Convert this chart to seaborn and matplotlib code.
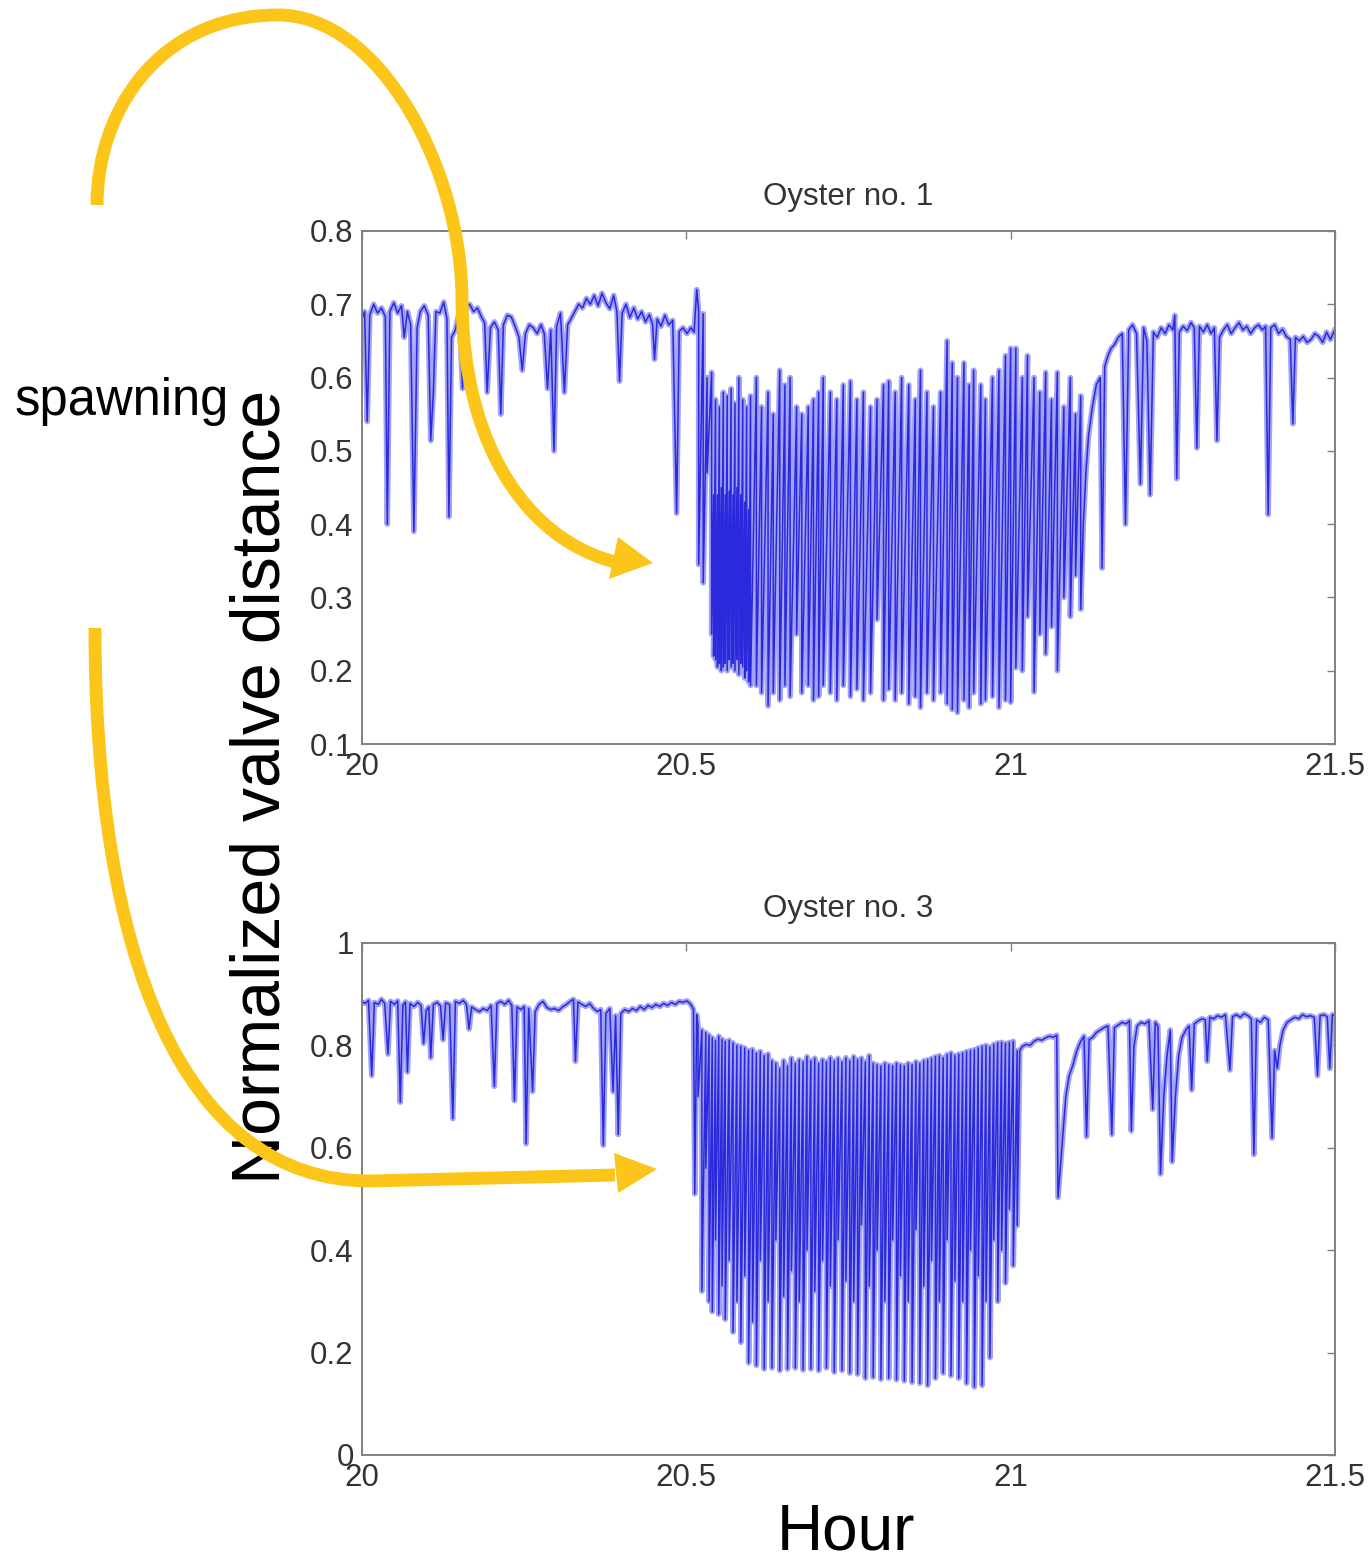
import matplotlib.pyplot as plt
import seaborn as sns
import pandas as pd
from matplotlib.path import Path
from matplotlib.patches import PathPatch, Polygon
from matplotlib.transforms import Affine2D

# ---- Oyster no. 1 ----
# quiet period before spawning: (hour, normalized valve distance)
o1_pre = [
    (20.000, 0.680), (20.004, 0.690), (20.008, 0.540), (20.012, 0.685), (20.018, 0.700),
    (20.024, 0.688), (20.030, 0.695), (20.036, 0.683), (20.039, 0.400), (20.043, 0.690),
    (20.049, 0.702), (20.055, 0.688), (20.061, 0.698), (20.065, 0.655), (20.070, 0.690),
    (20.075, 0.672), (20.080, 0.390), (20.085, 0.668), (20.090, 0.690), (20.096, 0.698),
    (20.102, 0.685), (20.106, 0.514), (20.110, 0.580), (20.114, 0.690), (20.120, 0.688),
    (20.126, 0.703), (20.131, 0.680), (20.134, 0.410), (20.138, 0.655), (20.144, 0.665),
    (20.150, 0.690), (20.155, 0.585), (20.160, 0.695), (20.166, 0.700), (20.172, 0.690),
    (20.178, 0.695), (20.184, 0.683), (20.189, 0.675), (20.193, 0.580), (20.198, 0.668),
    (20.204, 0.676), (20.210, 0.665), (20.214, 0.550), (20.218, 0.672), (20.224, 0.685),
    (20.230, 0.683), (20.236, 0.670), (20.242, 0.655), (20.247, 0.610), (20.252, 0.660),
    (20.258, 0.672), (20.264, 0.668), (20.270, 0.660), (20.276, 0.672), (20.281, 0.660),
    (20.286, 0.585), (20.291, 0.665), (20.296, 0.500), (20.300, 0.670), (20.306, 0.688),
    (20.312, 0.580), (20.317, 0.672), (20.322, 0.680), (20.328, 0.690), (20.334, 0.700),
    (20.340, 0.695), (20.346, 0.708), (20.352, 0.700), (20.358, 0.712), (20.364, 0.698),
    (20.370, 0.715), (20.376, 0.702), (20.382, 0.694), (20.388, 0.712), (20.393, 0.690),
    (20.397, 0.595), (20.401, 0.688), (20.407, 0.700), (20.413, 0.682), (20.419, 0.695),
    (20.425, 0.680), (20.431, 0.690), (20.437, 0.676), (20.443, 0.686), (20.448, 0.672),
    (20.451, 0.625), (20.455, 0.680), (20.461, 0.670), (20.467, 0.685), (20.473, 0.672),
    (20.479, 0.678), (20.485, 0.415), (20.489, 0.663), (20.495, 0.668), (20.501, 0.660),
    (20.507, 0.668), (20.512, 0.662), (20.516, 0.720),
]
# spawning: (hour, open level, closed level) of each rapid valve stroke
o1_spawn = [
    (20.519, 0.690, 0.345), (20.526, 0.687, 0.320), (20.532, 0.600, 0.470), (20.539, 0.607, 0.250),
    (20.542, 0.440, 0.220), (20.545, 0.570, 0.215), (20.548, 0.440, 0.205), (20.551, 0.560, 0.210),
    (20.554, 0.450, 0.200), (20.557, 0.580, 0.205), (20.560, 0.440, 0.210), (20.563, 0.575, 0.200),
    (20.566, 0.445, 0.215), (20.569, 0.585, 0.205), (20.572, 0.440, 0.210), (20.575, 0.565, 0.200),
    (20.578, 0.450, 0.215), (20.581, 0.600, 0.195), (20.584, 0.440, 0.210), (20.587, 0.570, 0.205),
    (20.590, 0.430, 0.190), (20.593, 0.560, 0.200), (20.596, 0.420, 0.185), (20.599, 0.575, 0.180),
    (20.608, 0.600, 0.180), (20.616, 0.560, 0.170), (20.626, 0.580, 0.152), (20.634, 0.550, 0.170),
    (20.644, 0.610, 0.160), (20.652, 0.590, 0.180), (20.660, 0.600, 0.165), (20.670, 0.560, 0.250),
    (20.678, 0.550, 0.170), (20.688, 0.560, 0.180), (20.696, 0.570, 0.160), (20.704, 0.580, 0.165),
    (20.711, 0.600, 0.180), (20.722, 0.580, 0.170), (20.732, 0.570, 0.160), (20.742, 0.590, 0.180),
    (20.753, 0.595, 0.165), (20.763, 0.570, 0.175), (20.773, 0.580, 0.160), (20.784, 0.560, 0.170),
    (20.794, 0.570, 0.270), (20.804, 0.590, 0.160), (20.812, 0.595, 0.175), (20.822, 0.580, 0.160),
    (20.832, 0.600, 0.170), (20.843, 0.590, 0.155), (20.853, 0.570, 0.165), (20.861, 0.610, 0.150),
    (20.871, 0.580, 0.170), (20.881, 0.560, 0.160), (20.892, 0.580, 0.170), (20.902, 0.650, 0.155),
    (20.910, 0.620, 0.147), (20.918, 0.600, 0.143), (20.928, 0.620, 0.160), (20.936, 0.590, 0.150),
    (20.943, 0.610, 0.170), (20.954, 0.590, 0.155), (20.961, 0.570, 0.160), (20.972, 0.600, 0.165),
    (20.982, 0.610, 0.150), (20.992, 0.630, 0.160), (21.000, 0.640, 0.157), (21.008, 0.640, 0.204),
    (21.018, 0.600, 0.200), (21.026, 0.630, 0.274), (21.036, 0.600, 0.171), (21.045, 0.580, 0.250),
    (21.054, 0.607, 0.223), (21.063, 0.570, 0.260), (21.072, 0.607, 0.200), (21.082, 0.560, 0.300),
    (21.092, 0.600, 0.274), (21.100, 0.550, 0.330), (21.108, 0.575, 0.284),
]
# recovery and quiet period after spawning
o1_post = [
    (21.112, 0.400), (21.116, 0.470), (21.120, 0.520), (21.126, 0.560), (21.132, 0.590),
    (21.138, 0.600), (21.141, 0.340), (21.145, 0.615), (21.150, 0.630), (21.155, 0.640),
    (21.160, 0.645), (21.166, 0.655), (21.172, 0.660), (21.177, 0.400), (21.182, 0.665),
    (21.188, 0.672), (21.194, 0.660), (21.200, 0.455), (21.205, 0.668), (21.210, 0.650),
    (21.215, 0.440), (21.220, 0.662), (21.226, 0.655), (21.232, 0.668), (21.238, 0.660),
    (21.244, 0.672), (21.250, 0.665), (21.253, 0.685), (21.256, 0.462), (21.260, 0.662),
    (21.266, 0.670), (21.272, 0.664), (21.278, 0.675), (21.283, 0.668), (21.287, 0.504),
    (21.291, 0.670), (21.297, 0.662), (21.303, 0.672), (21.309, 0.660), (21.314, 0.668),
    (21.318, 0.514), (21.322, 0.655), (21.328, 0.665), (21.334, 0.672), (21.340, 0.660),
    (21.346, 0.668), (21.352, 0.675), (21.358, 0.665), (21.364, 0.670), (21.370, 0.660),
    (21.376, 0.668), (21.382, 0.672), (21.388, 0.665), (21.393, 0.670), (21.397, 0.413),
    (21.401, 0.668), (21.407, 0.672), (21.413, 0.660), (21.419, 0.666), (21.425, 0.656),
    (21.431, 0.652), (21.435, 0.537), (21.439, 0.655), (21.445, 0.650), (21.451, 0.656),
    (21.457, 0.648), (21.463, 0.652), (21.469, 0.660), (21.475, 0.656), (21.481, 0.648),
    (21.487, 0.662), (21.493, 0.652), (21.500, 0.666),
]

# ---- Oyster no. 3 ----
o3_pre = [
    (20.000, 0.885), (20.005, 0.882), (20.010, 0.888), (20.015, 0.741), (20.019, 0.884),
    (20.025, 0.880), (20.030, 0.890), (20.035, 0.882), (20.040, 0.783), (20.044, 0.886),
    (20.050, 0.880), (20.055, 0.887), (20.059, 0.689), (20.063, 0.878), (20.067, 0.885),
    (20.070, 0.748), (20.074, 0.882), (20.080, 0.876), (20.086, 0.884), (20.091, 0.878),
    (20.095, 0.804), (20.099, 0.868), (20.103, 0.875), (20.106, 0.776), (20.110, 0.880),
    (20.116, 0.884), (20.121, 0.877), (20.125, 0.811), (20.129, 0.883), (20.135, 0.880),
    (20.140, 0.657), (20.144, 0.886), (20.150, 0.882), (20.156, 0.888), (20.161, 0.880),
    (20.165, 0.832), (20.169, 0.875), (20.175, 0.870), (20.181, 0.866), (20.187, 0.872),
    (20.193, 0.868), (20.199, 0.878), (20.204, 0.720), (20.208, 0.882), (20.214, 0.886),
    (20.220, 0.880), (20.226, 0.888), (20.231, 0.878), (20.235, 0.692), (20.239, 0.875),
    (20.245, 0.870), (20.250, 0.876), (20.253, 0.608), (20.257, 0.872), (20.263, 0.710),
    (20.267, 0.866), (20.273, 0.880), (20.279, 0.886), (20.285, 0.874), (20.291, 0.870),
    (20.297, 0.872), (20.303, 0.868), (20.309, 0.875), (20.315, 0.880), (20.321, 0.886),
    (20.326, 0.890), (20.329, 0.769), (20.333, 0.885), (20.339, 0.880), (20.345, 0.876),
    (20.351, 0.882), (20.357, 0.872), (20.363, 0.866), (20.368, 0.870), (20.372, 0.605),
    (20.376, 0.862), (20.382, 0.872), (20.387, 0.710), (20.391, 0.858), (20.395, 0.626),
    (20.399, 0.862), (20.405, 0.870), (20.411, 0.866), (20.417, 0.872), (20.423, 0.868),
    (20.429, 0.876), (20.435, 0.870), (20.441, 0.878), (20.447, 0.874), (20.453, 0.880),
    (20.459, 0.876), (20.465, 0.882), (20.471, 0.878), (20.477, 0.884), (20.483, 0.880),
    (20.489, 0.886), (20.495, 0.884), (20.501, 0.887), (20.507, 0.880), (20.511, 0.870),
    (20.513, 0.510), (20.516, 0.860),
]
o3_spawn = [
    (20.518, 0.840, 0.700), (20.524, 0.830, 0.320), (20.530, 0.825, 0.560), (20.535, 0.820, 0.300),
    (20.540, 0.815, 0.280), (20.545, 0.810, 0.420), (20.550, 0.818, 0.275), (20.555, 0.812, 0.330),
    (20.560, 0.808, 0.265), (20.566, 0.810, 0.380), (20.572, 0.805, 0.240), (20.578, 0.800, 0.300),
    (20.584, 0.798, 0.220), (20.590, 0.795, 0.350), (20.596, 0.790, 0.180), (20.602, 0.792, 0.260),
    (20.608, 0.785, 0.175), (20.614, 0.788, 0.380), (20.620, 0.780, 0.168), (20.626, 0.783, 0.300),
    (20.632, 0.770, 0.170), (20.638, 0.765, 0.420), (20.644, 0.755, 0.165), (20.650, 0.770, 0.310),
    (20.656, 0.760, 0.168), (20.662, 0.775, 0.360), (20.668, 0.765, 0.170), (20.674, 0.772, 0.300),
    (20.680, 0.768, 0.166), (20.686, 0.778, 0.400), (20.692, 0.770, 0.168), (20.698, 0.775, 0.320),
    (20.704, 0.765, 0.165), (20.710, 0.772, 0.380), (20.716, 0.768, 0.170), (20.722, 0.776, 0.330),
    (20.728, 0.770, 0.162), (20.734, 0.775, 0.420), (20.740, 0.768, 0.165), (20.746, 0.776, 0.340),
    (20.752, 0.770, 0.160), (20.758, 0.778, 0.300), (20.764, 0.772, 0.158), (20.770, 0.775, 0.450),
    (20.776, 0.768, 0.150), (20.782, 0.780, 0.330), (20.788, 0.765, 0.152), (20.794, 0.762, 0.400),
    (20.800, 0.760, 0.148), (20.806, 0.765, 0.300), (20.812, 0.762, 0.150), (20.818, 0.760, 0.420),
    (20.824, 0.765, 0.147), (20.830, 0.762, 0.350), (20.836, 0.760, 0.145), (20.842, 0.765, 0.300),
    (20.848, 0.762, 0.142), (20.854, 0.768, 0.440), (20.860, 0.765, 0.140), (20.866, 0.770, 0.330),
    (20.872, 0.772, 0.136), (20.878, 0.775, 0.380), (20.884, 0.778, 0.150), (20.890, 0.780, 0.300),
    (20.896, 0.776, 0.160), (20.902, 0.782, 0.420), (20.908, 0.785, 0.155), (20.914, 0.780, 0.340),
    (20.920, 0.783, 0.150), (20.926, 0.785, 0.300), (20.932, 0.788, 0.140), (20.938, 0.790, 0.400),
    (20.944, 0.792, 0.133), (20.950, 0.795, 0.350), (20.956, 0.798, 0.136), (20.962, 0.800, 0.300),
    (20.968, 0.797, 0.190), (20.974, 0.802, 0.420), (20.980, 0.805, 0.300), (20.986, 0.806, 0.400),
    (20.992, 0.804, 0.336), (20.998, 0.806, 0.480), (21.004, 0.808, 0.370), (21.010, 0.790, 0.448),
]
o3_post = [
    (21.014, 0.790), (21.018, 0.798), (21.024, 0.802), (21.030, 0.800), (21.036, 0.808),
    (21.042, 0.812), (21.048, 0.810), (21.054, 0.815), (21.060, 0.818), (21.066, 0.816),
    (21.071, 0.820), (21.073, 0.503), (21.076, 0.552), (21.080, 0.620), (21.085, 0.700),
    (21.090, 0.740), (21.096, 0.762), (21.102, 0.790), (21.108, 0.808), (21.113, 0.818),
    (21.117, 0.622), (21.121, 0.812), (21.126, 0.815), (21.132, 0.825), (21.138, 0.830),
    (21.144, 0.835), (21.150, 0.838), (21.156, 0.626), (21.160, 0.835), (21.166, 0.840),
    (21.172, 0.845), (21.178, 0.842), (21.183, 0.848), (21.186, 0.633), (21.190, 0.797),
    (21.195, 0.838), (21.201, 0.845), (21.207, 0.842), (21.213, 0.848), (21.219, 0.675),
    (21.223, 0.845), (21.227, 0.838), (21.231, 0.549), (21.236, 0.700), (21.241, 0.780),
    (21.246, 0.830), (21.249, 0.573), (21.254, 0.700), (21.259, 0.780), (21.264, 0.815),
    (21.270, 0.830), (21.275, 0.838), (21.279, 0.713), (21.283, 0.842), (21.289, 0.848),
    (21.295, 0.852), (21.300, 0.850), (21.303, 0.769), (21.307, 0.855), (21.313, 0.852),
    (21.319, 0.858), (21.325, 0.855), (21.331, 0.860), (21.338, 0.752), (21.342, 0.856),
    (21.348, 0.860), (21.354, 0.855), (21.360, 0.862), (21.366, 0.858), (21.371, 0.852),
    (21.375, 0.587), (21.379, 0.850), (21.385, 0.845), (21.391, 0.855), (21.397, 0.850),
    (21.403, 0.619), (21.407, 0.790), (21.411, 0.755), (21.415, 0.800), (21.420, 0.830),
    (21.426, 0.845), (21.432, 0.850), (21.438, 0.855), (21.444, 0.852), (21.450, 0.860),
    (21.456, 0.856), (21.462, 0.858), (21.468, 0.855), (21.473, 0.741), (21.477, 0.858),
    (21.483, 0.860), (21.488, 0.856), (21.492, 0.755), (21.496, 0.860), (21.500, 0.858),
]

x_ticks = [20, 20.5, 21, 21.5]
x_tick_labels = ['20', '20.5', '21', '21.5']
o1_y_ticks = [0.1, 0.2, 0.3, 0.4, 0.5, 0.6, 0.7, 0.8]
o1_y_tick_labels = ['0.1', '0.2', '0.3', '0.4', '0.5', '0.6', '0.7', '0.8']
o3_y_ticks = [0, 0.2, 0.4, 0.6, 0.8, 1]
o3_y_tick_labels = ['0', '0.2', '0.4', '0.6', '0.8', '1']


def build_trace(pre, spawn, post):
    hours, values = [], []
    for h, v in pre:
        hours.append(h)
        values.append(v)
    for h, top, bottom in spawn:
        hours += [h, h]
        values += [top, bottom]
    for h, v in post:
        hours.append(h)
        values.append(v)
    return pd.DataFrame({'Hour': hours, 'Distance': values})


df1 = build_trace(o1_pre, o1_spawn, o1_post)
df3 = build_trace(o3_pre, o3_spawn, o3_post)

sns.set_style('white')
plt.rcParams['font.family'] = ['Liberation Sans', 'DejaVu Sans']

W, H = 1372, 1559
fig = plt.figure(figsize=(W / 100, H / 100), dpi=100)
ax1 = fig.add_axes([362 / W, 1 - 744 / H, 973 / W, 513 / H])
ax3 = fig.add_axes([362 / W, 1 - 1455 / H, 973 / W, 512 / H])

text_grey = '#333333'
frame_grey = '#808080'

panels = [
    (ax1, df1, 'Oyster no. 1', (0.1, 0.8), o1_y_ticks, o1_y_tick_labels),
    (ax3, df3, 'Oyster no. 3', (0, 1), o3_y_ticks, o3_y_tick_labels),
]
for ax, df, title, ylim, yt, ytl in panels:
    # light halo + darker core to mimic the blurred thin MATLAB trace
    sns.lineplot(data=df, x='Hour', y='Distance', ax=ax, sort=False, estimator=None,
                 color='#a2a2f4', linewidth=4.0)
    sns.lineplot(data=df, x='Hour', y='Distance', ax=ax, sort=False, estimator=None,
                 color='#2a2adc', linewidth=1.1)
    ax.set_xlim(20, 21.5)
    ax.set_ylim(*ylim)
    ax.set_xticks(x_ticks)
    ax.set_xticklabels(x_tick_labels)
    ax.set_yticks(yt)
    ax.set_yticklabels(ytl)
    ax.set_xlabel('')
    ax.set_ylabel('')
    for s in ax.spines.values():
        s.set_visible(True)
        s.set_color(frame_grey)
        s.set_linewidth(1.4)
    ax.tick_params(direction='in', length=6, width=1, color=frame_grey,
                   labelcolor=text_grey, labelsize=22.5, top=True, right=True, pad=6)
    ax.set_title(title, fontsize=22.5, color=text_grey, pad=19)

fig.text(846 / W, 1 - 1549 / H, 'Hour', fontsize=46, ha='center', va='baseline', color='black')
fig.text(262 / W, 1 - 787 / H, 'Normalized valve distance', fontsize=49, rotation=90,
         ha='center', va='center', color='black')
fig.text(15 / W, 1 - 415 / H, 'spawning', fontsize=36.5, ha='left', va='baseline', color='black')

# yellow annotation arrows, drawn in figure pixel coordinates (y down)
px = Affine2D().scale(1 / W, -1 / H).translate(0, 1) + fig.transFigure
yellow = '#fcc51a'

arc_top = Path([(97, 205), (97, 110), (160, 15), (278, 15),
                (380, 15), (462, 170), (462, 300),
                (463, 450), (530, 540), (615, 562)],
               [Path.MOVETO] + [Path.CURVE4] * 9)
arc_bottom = Path([(95, 628), (95, 950), (180, 1181), (370, 1181), (615, 1175)],
                  [Path.MOVETO, Path.CURVE4, Path.CURVE4, Path.CURVE4, Path.LINETO])
for arc in (arc_top, arc_bottom):
    fig.add_artist(PathPatch(arc, transform=px, fill=False, edgecolor=yellow,
                             linewidth=9.3, capstyle='butt', zorder=10))
fig.add_artist(Polygon([(618, 537), (609, 579), (653, 563)], closed=True, transform=px,
                       facecolor=yellow, edgecolor='none', zorder=10))
fig.add_artist(Polygon([(614, 1153), (618, 1193), (657, 1169)], closed=True, transform=px,
                       facecolor=yellow, edgecolor='none', zorder=10))

fig.savefig('out.png', dpi=100)
